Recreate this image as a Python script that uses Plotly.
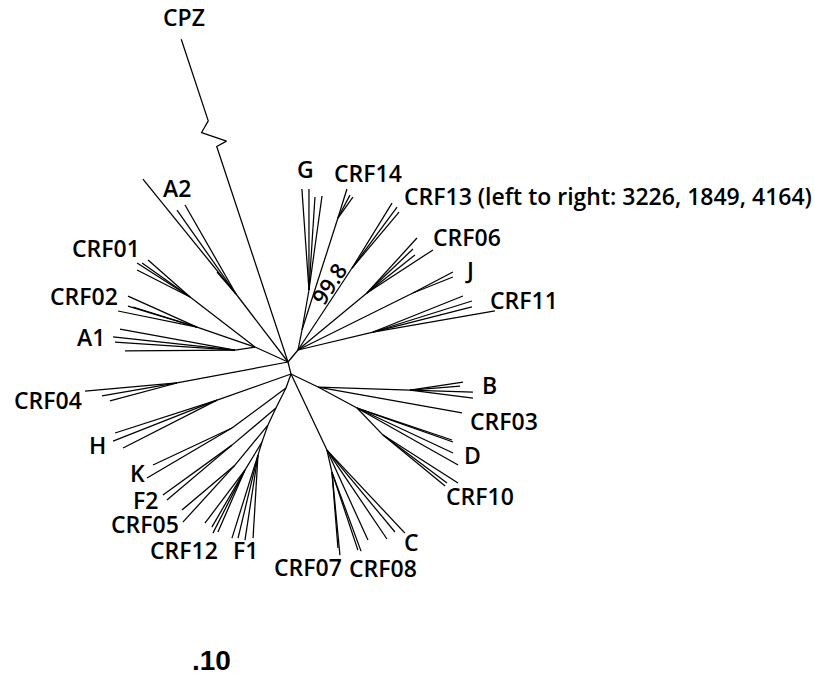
import math
import plotly.graph_objects as go

# ---------------- tree data (branch lengths in substitutions/site, angles in degrees) -------------
node = [
    "NU", "ND", "CPZ",
    "A2n", "A2_1", "A2_2", "A2_3", "A2_4",
    "AC", "CRF01n", "CRF01_1", "CRF01_2", "CRF01_3", "CRF01_4",
    "CRF02n", "CRF02_1", "CRF02_2", "CRF02_3", "CRF02_4",
    "A1n", "A1_1", "A1_2", "A1_3", "A1_4",
    "CRF04n", "CRF04_1", "CRF04_2", "CRF04_3",
    "Hn", "H_1", "H_2", "H_3",
    "L1", "Kn", "K_1", "K_2",
    "L2", "F2n", "F2_1", "F2_2",
    "L3", "CRF05n", "CRF05_1", "CRF05_2",
    "L4", "CRF12n", "CRF12_1", "CRF12_2", "CRF12_3", "CRF12_4",
    "F1n", "F1_1", "F1_2", "F1_3", "F1_4",
    "Cn", "C78n", "CRF07_1", "CRF07_2", "CRF08_1", "CRF08_2",
    "C_1", "C_2", "C_3", "C_4",
    "BD", "Bn", "B_1", "B_2", "B_3", "B_4", "CRF03_1",
    "Dn", "D_1", "D_2", "D_3", "D_4",
    "CRF10n", "CRF10_1", "CRF10_2", "CRF10_3",
    "GU", "Gn", "G_1", "G_2", "G_3", "G_4",
    "CRF14n", "CRF14_1", "CRF14_2", "CRF14_3",
    "CRF13n", "CRF13_1", "CRF13_2", "CRF13_3",
    "CRF06n", "CRF06_1", "CRF06_2", "CRF06_3", "CRF06_4",
    "Jn", "J_1", "J_2",
    "CRF11n", "CRF11_1", "CRF11_2", "CRF11_3", "CRF11_4",
]
parent = [
    "NA", "NA", "NA",
    "NA", "A2n", "A2n", "A2n", "A2n",
    "NA", "AC", "CRF01n", "CRF01n", "CRF01n", "CRF01n",
    "AC", "CRF02n", "CRF02n", "CRF02n", "CRF02n",
    "AC", "A1n", "A1n", "A1n", "A1n",
    "NA", "CRF04n", "CRF04n", "CRF04n",
    "ND", "Hn", "Hn", "Hn",
    "ND", "L1", "Kn", "Kn",
    "L1", "L2", "F2n", "F2n",
    "L2", "L3", "CRF05n", "CRF05n",
    "L3", "L4", "CRF12n", "CRF12n", "CRF12n", "CRF12n",
    "L4", "F1n", "F1n", "F1n", "F1n",
    "ND", "Cn", "C78n", "C78n", "C78n", "C78n",
    "Cn", "Cn", "Cn", "Cn",
    "ND", "BD", "Bn", "Bn", "Bn", "Bn", "BD",
    "BD", "Dn", "Dn", "Dn", "Dn",
    "Dn", "CRF10n", "CRF10n", "CRF10n",
    "NU", "GU", "Gn", "Gn", "Gn", "Gn",
    "GU", "CRF14n", "CRF14n", "CRF14n",
    "NU", "CRF13n", "CRF13n", "CRF13n",
    "NU", "CRF06n", "CRF06n", "CRF06n", "CRF06n",
    "NU", "Jn", "Jn",
    "NU", "CRF11n", "CRF11n", "CRF11n", "CRF11n",
]
blen = [
    0.0156, 0.0124, 0.340,
    0.0856, 0.1479, 0.1026, 0.1026, 0.0291,
    0.0362, 0.0820, 0.0630, 0.0588, 0.0560, 0.0595,
    0.0614, 0.0756, 0.0670, 0.0721, 0.0806,
    0.0202, 0.1169, 0.1227, 0.1203, 0.1100,
    0.1130, 0.0923, 0.0761, 0.0694,
    0.0784, 0.1072, 0.1118, 0.1055,
    0.0149, 0.0672, 0.0872, 0.0986,
    0.0224, 0.0575, 0.0852, 0.0851,
    0.0188, 0.0519, 0.0695, 0.0772,
    0.0180, 0.0328, 0.0664, 0.0659, 0.0707, 0.0676,
    0.0136, 0.0870, 0.0854, 0.0860, 0.0832,
    0.0841, 0.0226, 0.0834, 0.0762, 0.0822, 0.0842,
    0.0989, 0.1073, 0.1065, 0.1139,
    0.0300, 0.0920, 0.0536, 0.0502, 0.0630, 0.0635, 0.1463,
    0.0443, 0.1002, 0.1018, 0.1060, 0.1160,
    0.0375, 0.0890, 0.0800, 0.0803,
    0.0204, 0.0406, 0.1012, 0.1010, 0.0932, 0.0949,
    0.1176, 0.0304, 0.0259, 0.0258,
    0.0982, 0.0763, 0.0758, 0.0731,
    0.0895, 0.0743, 0.0637, 0.0612, 0.0788,
    0.1283, 0.0452, 0.0431,
    0.0771, 0.0969, 0.1037, 0.1021, 0.1238,
]
angle = [
    50.2, -76.0, 108.3,
    127.4, 129.0, 125.1, 119.8, 130.8,
    155.6, 142.4, 147.3, 144.7, 138.6, 153.0,
    161.0, 155.8, 162.6, 163.1, 168.5,
    188.5, 169.7, 173.9, 176.2, 180.5,
    190.7, 185.0, 189.8, 195.0,
    199.4, 197.9, 201.5, 207.0,
    250.3, 216.5, 205.1, 210.5,
    243.4, 220.1, 215.9, 220.2,
    244.8, 230.5, 220.3, 227.6,
    250.6, 238.7, 233.0, 239.9, 243.1, 246.5,
    253.0, 252.6, 256.5, 261.3, 266.6,
    295.3, 282.8, 275.5, 274.5, 288.4, 290.2,
    294.5, 304.0, 309.7, 313.2,
    334.3, 358.1, 8.6, 4.6, -1.8, -7.2, -10.2,
    -28.3, -18.6, -19.5, -25.1, -29.4,
    -46.1, -32.6, -36.9, -39.4,
    78.7, 80.1, 94.0, 90.0, 86.3, 82.1,
    72.2, 72.8, 62.4, 54.5,
    56.6, 58.4, 53.6, 50.0,
    39.6, 47.7, 43.7, 38.4, 33.1,
    26.4, 27.7, 21.8,
    13.5, 21.8, 17.4, 14.2, 9.8,
]

# clade labels and the tip each label sits next to
label_text = ["CPZ", "A2", "CRF01", "CRF02", "A1", "CRF04", "H", "K", "F2", "CRF05",
              "CRF12", "F1", "CRF07", "CRF08", "C", "CRF10", "D", "CRF03", "B",
              "CRF11", "J", "CRF06", "CRF13 (left to right: 3226, 1849, 4164)", "CRF14", "G"]
label_tip = ["CPZ", "A2_3", "CRF01_1", "CRF02_1", "A1_2", "CRF04_1", "H_2", "K_2", "F2_1", "CRF05_1",
             "CRF12_2", "F1_3", "CRF07_1", "CRF08_2", "C_4", "CRF10_1", "D_3", "CRF03_1", "B_3",
             "CRF11_4", "J_1", "CRF06_4", "CRF13_1", "CRF14_1", "G_1"]

bootstrap_value = "99.8"
bootstrap_branch = "CRF13n"
scale_value = 0.10
scale_text = ".10"
long_branch = "CPZ"

# ---------------- layout / style (pixels) ----------------
label_shift = {  # (xshift, yshift) in px from the reference tip
    "CPZ": (3, 22), "A2": (-8, 17), "CRF01": (-31, 15), "CRF02": (-44, 0), "A1": (-22, 0),
    "CRF04": (-37, -9), "H": (-16, -4), "K": (-10, 5), "F2": (-17, -5), "CRF05": (-37, -14),
    "CRF12": (-28, -23), "F1": (1, -10), "CRF07": (-32, -12), "CRF08": (22, -17), "C": (7, -9),
    "CRF10": (22, -13), "D": (19, -2), "CRF03": (42, -8), "B": (17, 7), "CRF11": (29, 11),
    "J": (17, 2), "CRF06": (34, 13), "CRF13 (left to right: 3226, 1849, 4164)": (11, 7),
    "CRF14": (21, 16), "G": (4, 20),
}
FONT = "Open Sans"
LABEL_SIZE = 23
LINE_W = 1.25

# ---------------- compute node positions ----------------
pos = {"NA": (0.0, 0.0)}
info = {n: (p, l, a) for n, p, l, a in zip(node, parent, blen, angle)}
pending = list(node)
while pending:
    rest = []
    for n in pending:
        p, l, a = info[n]
        if p in pos:
            px, py = pos[p]
            r = math.radians(a)
            pos[n] = (px + l * math.cos(r), py + l * math.sin(r))
        else:
            rest.append(n)
    pending = rest

xs, ys = [], []
for n in node:
    p = info[n][0]
    x0, y0 = pos[p]
    x1, y1 = pos[n]
    if n == long_branch:
        # broken long branch with zig-zag marker
        a = math.radians(info[n][2])
        u = (math.cos(a), math.sin(a))
        v = (math.cos(a - math.pi / 2), math.sin(a - math.pi / 2))
        for d, o in [(0.0, 0.0), (0.227, 0.0), (0.229, 0.011), (0.245, -0.010), (0.254, 0.0)]:
            xs.append(x0 + d * u[0] + o * v[0])
            ys.append(y0 + d * u[1] + o * v[1])
        xs += [x1, None]
        ys += [y1, None]
    else:
        xs += [x0, x1, None]
        ys += [y0, y1, None]

fig = go.Figure()
fig.add_trace(go.Scatter(x=xs, y=ys, mode="lines",
                         line=dict(color="black", width=LINE_W),
                         hoverinfo="skip", showlegend=False))

ann = []
for t, tip in zip(label_text, label_tip):
    x, y = pos[tip]
    sx, sy = label_shift[t]
    ann.append(dict(x=x, y=y, text=t, showarrow=False, borderpad=0,
                    xanchor="left" if t.startswith("CRF13") else "center",
                    yanchor="middle", xshift=sx, yshift=sy,
                    font=dict(family=FONT, size=LABEL_SIZE, color="black", weight=600)))

# bootstrap label along the CRF13 stem (sits just to the upper-left of the branch)
bp = info[bootstrap_branch][0]
bx0, by0 = pos[bp]
bx1, by1 = pos[bootstrap_branch]
ba = info[bootstrap_branch][2]
f = 0.74
ann.append(dict(x=bx0 + f * (bx1 - bx0), y=by0 + f * (by1 - by0), text=bootstrap_value,
                showarrow=False, textangle=-ba, xshift=-9, yshift=6, borderpad=0,
                font=dict(family=FONT, size=22, color="black", weight=600)))

# scale label
ann.append(dict(x=-0.077, y=-0.298, text=scale_text, showarrow=False,
                font=dict(family="Liberation Sans", size=28, color="black", weight=700)))

fig.update_layout(
    width=815, height=686,
    margin=dict(l=0, r=0, t=0, b=0),
    paper_bgcolor="white", plot_bgcolor="white",
    xaxis=dict(range=[-0.288, 0.527], visible=False, fixedrange=True),
    yaxis=dict(range=[-0.324, 0.362], visible=False, fixedrange=True),
    annotations=ann,
    showlegend=False,
)
fig.write_html("out.html")
